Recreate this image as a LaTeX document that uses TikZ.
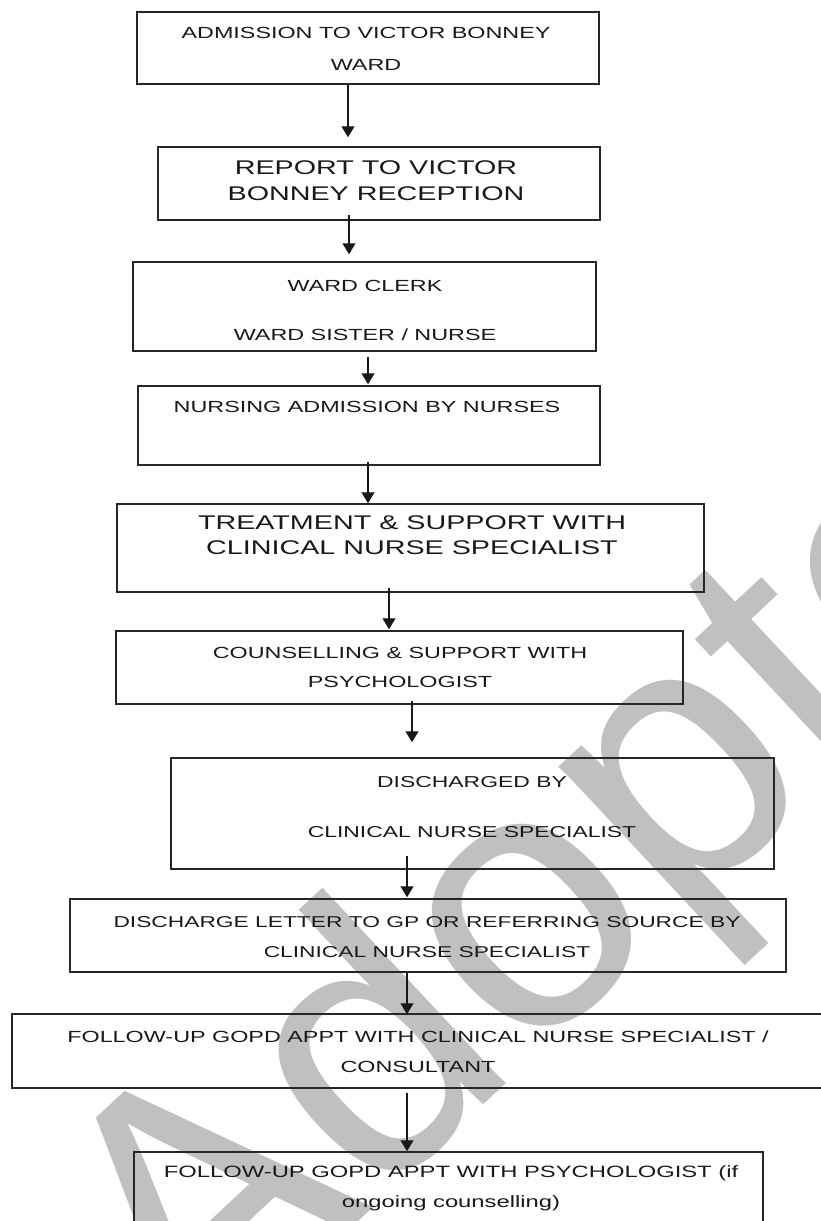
\documentclass[tikz,border=0pt]{standalone}
\usepackage{fontspec}
\setmainfont{Liberation Sans}
\newfontfamily\flowfont[FakeStretch=1.45]{Liberation Sans}
\usetikzlibrary{arrows.meta}
\definecolor{stampgray}{RGB}{192,192,192}
\tikzset{
  box/.style={draw=black!85, line width=1.5pt, inner sep=0pt},
  small text/.style={font=\flowfont\fontsize{16.1pt}{30pt}\selectfont, align=center, inner sep=0pt, text=black!90},
  big text/.style={font=\flowfont\fontsize{19.8pt}{25.5pt}\selectfont, align=center, inner sep=0pt, text=black!90},
  arr/.style={line width=1.2pt, black!90, -{Triangle[width=13pt,length=11pt]}},
  stamp/.style={text=stampgray, font=\fontsize{370pt}{370pt}\selectfont, anchor=base west, rotate=43, inner sep=0pt}
}
\begin{document}
\begin{tikzpicture}[x=1pt,y=-1pt]
\useasboundingbox (0,0) rectangle (820,1221);
\fill[white] (0,0) rectangle (820,1221);

% watermark
\node[stamp] (wm) at (192.9,1375.8) {Adopted};

% boxes
\node[box, minimum width=462pt, minimum height=72pt] (b1) at (368,48) {};
\node[box, minimum width=442pt, minimum height=73pt] (b2) at (379,183.5) {};
\node[box, minimum width=463pt, minimum height=89pt] (b3) at (364.5,306.5) {};
\node[box, minimum width=462pt, minimum height=79pt] (b4) at (369,425.5) {};
\node[box, minimum width=587pt, minimum height=88pt] (b5) at (410.5,548) {};
\node[box, minimum width=567pt, minimum height=73pt] (b6) at (399.5,667.5) {};
\node[box, minimum width=603pt, minimum height=111pt] (b7) at (472.5,813.5) {};
\node[box, minimum width=716pt, minimum height=73pt] (b8) at (428,935.5) {};
\node[box, minimum width=814pt, minimum height=74pt] (b9) at (419,1051) {};
\node[box, minimum width=629pt, minimum height=83pt] (b10) at (448.5,1193.5) {};

% texts
\node[small text] (t1) at (366,49) {ADMISSION TO VICTOR BONNEY\\[2pt]WARD};
\node[big text] (t2) at (376,180.5) {REPORT TO VICTOR\\BONNEY RECEPTION};
\node[small text] (t3) at (365,310.5) {WARD CLERK\\[19pt]WARD SISTER / NURSE};
\node[small text] (t4) at (367,407) {NURSING ADMISSION BY NURSES};
\node[big text] (t5) at (412,535) {TREATMENT \& SUPPORT WITH\\CLINICAL NURSE SPECIALIST};
\node[small text] (t6) at (400,667.5) {COUNSELLING \& SUPPORT WITH\\[-1pt]PSYCHOLOGIST};
\node[small text, font=\flowfont\fontsize{15.8pt}{30pt}\selectfont] (t7) at (472,807) {DISCHARGED BY\\[20pt]CLINICAL NURSE SPECIALIST};
\node[small text, font=\flowfont\fontsize{15.7pt}{30pt}\selectfont] (t8) at (427,937) {DISCHARGE LETTER TO GP OR REFERRING SOURCE BY\\CLINICAL NURSE SPECIALIST};
\node[small text] (t9) at (418,1052) {FOLLOW-UP GOPD APPT WITH CLINICAL NURSE SPECIALIST /\\CONSULTANT};
\node[small text, font=\flowfont\fontsize{16.4pt}{30pt}\selectfont] (t10) at (451,1188) {FOLLOW-UP GOPD APPT WITH PSYCHOLOGIST (if\\ongoing counselling)};

% arrows
\draw[arr] ([xshift=-20pt]b1.south) -- ([xshift=-31pt,yshift=9pt]b2.north);
\draw[arr] ([xshift=-30pt,yshift=6pt]b2.south) -- ([xshift=-15.5pt,yshift=7pt]b3.north);
\draw[arr] ([xshift=3.5pt,yshift=-5pt]b3.south) -- ([xshift=-1pt,yshift=1pt]b4.north);
\draw[arr] ([xshift=-1pt,yshift=4pt]b4.south) -- ([xshift=-42.5pt]b5.north);
\draw[arr] ([xshift=-21.5pt,yshift=5pt]b5.south) -- ([xshift=-10.5pt,yshift=1pt]b6.north);
\draw[arr] ([xshift=12.5pt,yshift=4pt]b6.south) -- ([xshift=-60.5pt,yshift=15pt]b7.north);
\draw[arr] ([xshift=-65.5pt,yshift=14pt]b7.south) -- ([xshift=-21pt,yshift=1pt]b8.north);
\draw[arr] ([xshift=-21pt]b8.south) -- ([xshift=-12pt,yshift=-1pt]b9.north);
\draw[arr] ([xshift=-12pt,yshift=-4pt]b9.south) -- ([xshift=-41.5pt]b10.north);
\end{tikzpicture}
\end{document}
